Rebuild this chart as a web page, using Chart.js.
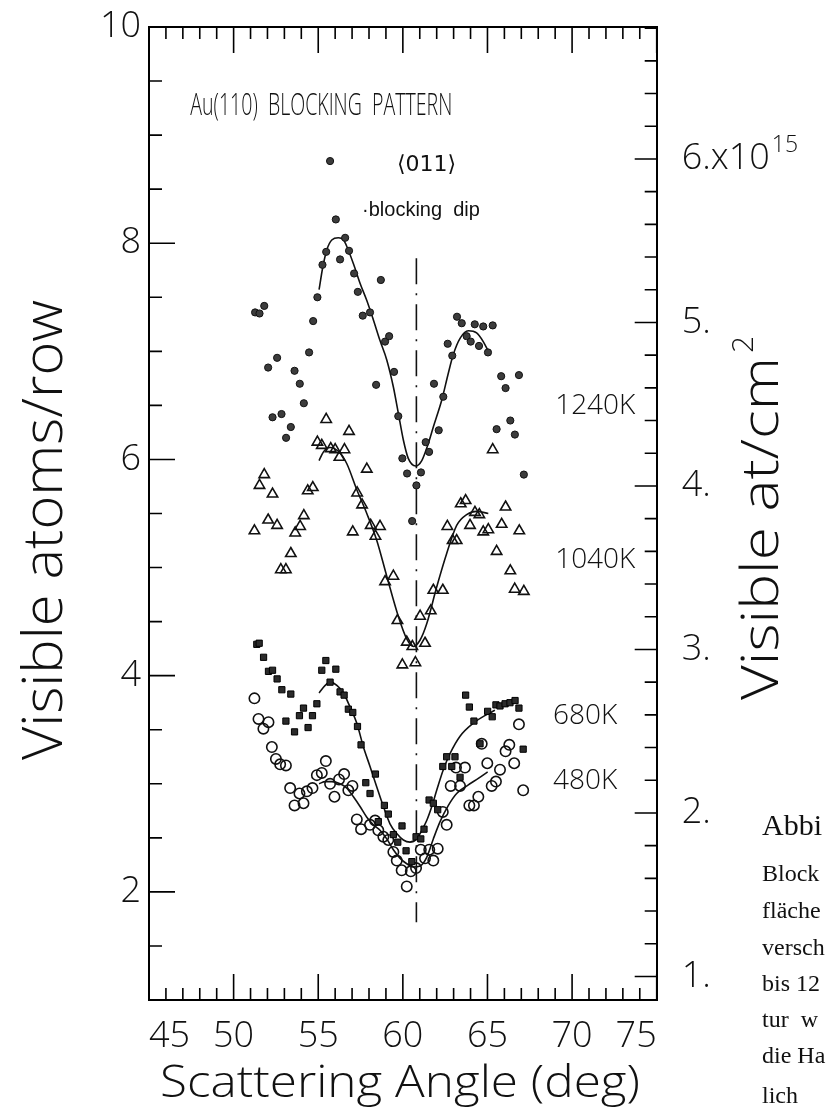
<!DOCTYPE html>
<html>
<head>
<meta charset="utf-8">
<title>Au(110) blocking pattern</title>
<script src="https://cdn.jsdelivr.net/npm/chart.js@4.4.1/dist/chart.umd.min.js"></script>
<style>
  html, body { margin: 0; padding: 0; background: #fff; overflow: hidden; }
  #wrap { position: relative; width: 827px; height: 1109px; }
</style>
</head>
<body>
<div id="wrap"><canvas id="blockingChart" width="827" height="1109"></canvas></div>
<script>
// Measured points: scattering angle (deg) and visible atoms per row
const angle1240K = [51.27, 51.53, 51.81, 52.04, 52.30, 52.57, 52.83, 53.10, 53.38, 53.60, 53.91, 54.15, 54.46, 54.70, 54.95, 55.25, 55.47, 55.70, 56.04, 56.29, 56.59, 56.82, 57.12, 57.34, 57.63, 58.06, 58.42, 58.70, 58.95, 59.19, 59.48, 59.73, 59.97, 60.25, 60.55, 60.80, 61.07, 61.35, 61.55, 61.84, 62.12, 62.39, 62.65, 62.92, 63.20, 63.48, 63.77, 64.01, 64.25, 64.50, 64.75, 65.03, 65.31, 65.54, 65.81, 66.07, 66.35, 66.62, 66.86, 67.15];
const atoms1240K = [7.36, 7.35, 7.42, 6.85, 6.39, 6.94, 6.42, 6.20, 6.30, 6.82, 6.70, 6.52, 6.99, 7.28, 7.50, 7.80, 7.92, 8.76, 8.22, 7.85, 8.05, 7.93, 7.72, 7.55, 7.33, 7.36, 6.69, 7.66, 7.09, 7.14, 6.81, 6.40, 6.01, 5.87, 5.43, 5.76, 5.88, 6.16, 6.07, 6.70, 6.27, 6.58, 7.07, 6.96, 7.32, 7.26, 7.14, 7.09, 7.25, 7.05, 7.23, 6.99, 7.24, 6.28, 6.77, 6.66, 6.36, 6.23, 6.78, 5.86];

const angle1040K = [51.23, 51.53, 51.81, 52.04, 52.30, 52.57, 52.79, 53.09, 53.38, 53.64, 53.93, 54.15, 54.38, 54.68, 54.95, 55.21, 55.47, 55.74, 56.00, 56.25, 56.55, 56.82, 57.04, 57.30, 57.59, 57.87, 58.10, 58.38, 58.65, 58.95, 59.44, 59.68, 59.97, 60.23, 60.56, 60.74, 61.02, 61.31, 61.65, 61.80, 62.36, 62.63, 62.94, 63.18, 63.42, 63.71, 63.97, 64.26, 64.52, 64.75, 65.05, 65.31, 65.54, 65.84, 66.07, 66.35, 66.61, 66.88, 67.15];
const atoms1040K = [5.34, 5.76, 5.86, 5.44, 5.68, 5.39, 4.98, 4.98, 5.13, 5.32, 5.38, 5.48, 5.71, 5.74, 6.16, 6.13, 6.37, 6.10, 6.09, 6.02, 6.09, 6.26, 5.33, 5.69, 5.58, 5.91, 5.39, 5.29, 5.38, 4.87, 4.92, 4.51, 4.10, 4.31, 4.27, 4.12, 4.55, 4.30, 4.60, 4.79, 4.79, 5.38, 5.25, 5.25, 5.59, 5.62, 5.39, 5.51, 5.49, 5.33, 5.35, 6.09, 5.15, 5.40, 5.56, 4.97, 4.80, 5.34, 4.78];

const angle680K = [51.37, 51.51, 51.77, 52.06, 52.30, 52.57, 52.85, 53.09, 53.38, 53.60, 53.89, 54.13, 54.40, 54.66, 54.92, 55.21, 55.45, 55.70, 56.04, 56.29, 56.53, 56.78, 57.04, 57.32, 57.53, 57.81, 58.06, 58.38, 58.55, 58.91, 59.14, 59.44, 59.70, 59.95, 60.19, 60.53, 60.78, 61.06, 61.25, 61.55, 61.80, 62.06, 62.36, 62.59, 62.89, 63.08, 63.38, 63.71, 63.93, 64.20, 64.56, 65.01, 65.28, 65.50, 65.74, 66.04, 66.33, 66.63, 66.86, 67.11];
const atoms680K = [4.29, 4.30, 4.17, 4.04, 4.05, 3.97, 3.87, 3.58, 3.83, 3.48, 3.63, 3.70, 3.52, 3.63, 3.74, 4.05, 4.14, 3.94, 4.06, 3.85, 3.82, 3.69, 3.66, 3.53, 3.36, 3.01, 2.91, 3.09, 2.65, 2.80, 2.72, 2.53, 2.46, 2.61, 2.38, 2.28, 2.51, 2.49, 2.58, 2.85, 2.82, 2.76, 3.16, 3.25, 3.16, 3.25, 3.06, 3.82, 3.71, 3.58, 3.37, 3.67, 3.62, 3.73, 3.72, 3.74, 3.75, 3.77, 3.70, 3.32];

const angle480K = [51.23, 51.47, 51.76, 52.06, 52.26, 52.50, 52.75, 53.09, 53.34, 53.60, 53.89, 54.13, 54.33, 54.66, 54.92, 55.21, 55.45, 55.70, 55.96, 56.23, 56.53, 56.78, 57.02, 57.28, 57.53, 58.06, 58.36, 58.55, 58.85, 59.14, 59.44, 59.64, 59.93, 60.23, 60.47, 60.78, 61.06, 61.31, 61.56, 61.80, 62.06, 62.36, 62.59, 62.83, 63.14, 63.38, 63.67, 63.93, 64.20, 64.46, 64.66, 64.99, 65.25, 65.50, 65.74, 66.07, 66.29, 66.58, 66.86, 67.11];
const atoms480K = [3.79, 3.60, 3.51, 3.57, 3.34, 3.23, 3.18, 3.17, 2.96, 2.80, 2.91, 2.82, 2.93, 2.96, 3.08, 3.10, 3.21, 3.00, 2.88, 3.04, 3.09, 2.94, 2.98, 2.67, 2.58, 2.62, 2.66, 2.57, 2.51, 2.48, 2.37, 2.29, 2.20, 2.05, 2.19, 2.22, 2.39, 2.31, 2.39, 2.29, 2.40, 2.74, 2.62, 2.98, 3.15, 2.98, 3.15, 2.80, 2.80, 2.88, 3.37, 3.19, 2.98, 3.02, 3.13, 3.30, 3.36, 3.19, 3.55, 2.94];

// Smooth guide curves through each temperature
const fitAngle1240K = [55.05, 55.27, 55.51, 55.80, 56.19, 56.49, 56.69, 57.08, 57.47, 57.87, 58.26, 58.65, 59.05, 59.44, 59.73, 60.03, 60.32, 60.76, 61.12, 61.51, 61.80, 62.30, 62.69, 62.98, 63.38, 63.87, 64.36, 64.75, 65.05];
const fitAtoms1240K = [7.57, 7.78, 7.94, 8.03, 8.05, 8.03, 7.97, 7.81, 7.63, 7.47, 7.29, 7.10, 6.92, 6.67, 6.43, 6.18, 6.01, 5.94, 5.99, 6.15, 6.30, 6.55, 6.80, 6.97, 7.12, 7.19, 7.17, 7.09, 7.00];
const fitAngle1040K = [55.05, 55.31, 55.70, 56.29, 56.69, 57.28, 57.87, 58.46, 59.05, 59.73, 60.23, 60.62, 61.02, 61.41, 62.00, 62.59, 63.18, 63.77, 64.36, 65.05];
const fitAtoms1040K = [5.99, 6.07, 6.11, 6.06, 5.96, 5.72, 5.50, 5.25, 4.92, 4.55, 4.34, 4.27, 4.33, 4.48, 4.82, 5.13, 5.39, 5.49, 5.52, 5.50];
const fitAngle680K = [55.05, 55.41, 55.70, 56.10, 56.49, 56.88, 57.28, 57.67, 58.06, 58.46, 58.85, 59.24, 59.64, 60.03, 60.42, 60.82, 61.12, 61.41, 61.71, 62.00, 62.39, 62.79, 63.38, 64.16, 64.95, 65.44];
const fitAtoms680K = [3.84, 3.91, 3.94, 3.91, 3.84, 3.71, 3.56, 3.34, 3.16, 2.97, 2.79, 2.63, 2.54, 2.48, 2.46, 2.49, 2.57, 2.66, 2.79, 2.94, 3.13, 3.28, 3.44, 3.56, 3.64, 3.68];
const fitAngle480K = [55.05, 55.41, 55.80, 56.29, 56.69, 57.08, 57.47, 57.87, 58.26, 58.65, 59.05, 59.44, 59.84, 60.23, 60.62, 61.02, 61.41, 61.80, 62.20, 62.69, 63.18, 63.87, 64.46, 65.01];
const fitAtoms480K = [3.00, 3.02, 3.02, 3.00, 2.96, 2.88, 2.79, 2.69, 2.62, 2.57, 2.49, 2.39, 2.31, 2.26, 2.23, 2.24, 2.32, 2.49, 2.65, 2.80, 2.91, 2.99, 3.05, 3.11];

// <011> blocking direction
const dipAngle = [60.8, 60.8];
const dipAtoms = [7.86, 1.72];

// Axes
const angleRange = [45, 75];
const atomsRange = [1, 10];
const arealRange = [0.856, 6.807]; // 10^15 at/cm^2 scale on the right
const angleTicks = [45, 50, 55, 60, 65, 70, 75];
const atomsTicks = [2, 4, 6, 8, 10];
const arealTicks = [1, 2, 3, 4, 5, 6];
const arealTickLabels = ["1.", "2.", "3.", "4.", "5.", "6.x10"];
const arealExponent = "15";

const SANS = "'Open Sans', 'DejaVu Sans', sans-serif";
const LIGHT = "300 ";
const TICK_SIZE = 36;

function toPoints(xs, ys) {
  return xs.map(function (x, i) {
    return { x: x, y: ys[i] };
  });
}

function fitLine(xs, ys) {
  return {
    data: toPoints(xs, ys),
    showLine: true,
    borderColor: "#111",
    borderWidth: 1.6,
    pointRadius: 0,
    cubicInterpolationMode: "monotone",
    fill: false,
  };
}

// keep the plot area fixed: no extra room for half-height edge labels
function noEdgePadding(scale) {
  scale.paddingTop = 0;
  scale.paddingBottom = 0;
  scale.paddingLeft = 0;
  scale.paddingRight = 0;
}

// draw text stretched or squeezed to a given run length, starting at the origin
function fillRun(ctx, text, length) {
  const w = ctx.measureText(text).width;
  ctx.save();
  ctx.scale(length / w, 1);
  ctx.fillText(text, 0, 0);
  ctx.restore();
}

// Text placed in data coordinates
const plotNotes = [
  { text: "1240K", x: 69.0, y: 6.49 },
  { text: "1040K", x: 69.0, y: 5.07 },
  { text: "680K", x: 68.87, y: 3.63 },
  { text: "480K", x: 68.87, y: 3.03 },
];

// German caption running beside the figure
const captionLines = [
  { text: "Abbi", y: 835, size: 30 },
  { text: "Block", y: 881, size: 24 },
  { text: "fläche", y: 918, size: 24 },
  { text: "versch", y: 955, size: 24 },
  { text: "bis 12", y: 991, size: 24 },
  { text: "tur  w", y: 1027, size: 24 },
  { text: "die Ha", y: 1063, size: 24 },
  { text: "lich", y: 1103, size: 24 },
];

const frameDecor = {
  id: "frameDecor",
  afterDraw(chart) {
    const ctx = chart.ctx;
    const a = chart.chartArea;
    const sx = chart.scales.x;
    const sy = chart.scales.y;
    const sr = chart.scales.yRight;

    ctx.save();
    ctx.strokeStyle = "#000";
    ctx.lineWidth = 1.6;
    ctx.beginPath();
    // inward ticks: every degree, long every 5
    for (let v = angleRange[0]; v <= angleRange[1]; v++) {
      const px = sx.getPixelForValue(v);
      const len = v % 5 === 0 ? 26 : 12;
      ctx.moveTo(px, a.bottom);
      ctx.lineTo(px, a.bottom - len);
      ctx.moveTo(px, a.top);
      ctx.lineTo(px, a.top + len);
    }
    // left: every 0.5, long on even values
    for (let k = 2; k <= 20; k++) {
      const py = sy.getPixelForValue(k / 2);
      const len = k % 4 === 0 ? 26 : 13;
      ctx.moveTo(a.left, py);
      ctx.lineTo(a.left + len, py);
    }
    // right: every 0.2, long on whole numbers
    for (let k = 5; k <= 34; k++) {
      const py = sr.getPixelForValue(k / 5);
      const len = k % 5 === 0 ? 22 : 12;
      ctx.moveTo(a.right, py);
      ctx.lineTo(a.right - len, py);
    }
    ctx.stroke();

    ctx.fillStyle = "#111";
    ctx.textAlign = "left";
    ctx.textBaseline = "alphabetic";

    // exponent on the top right-hand label
    ctx.font = LIGHT + TICK_SIZE + "px " + SANS;
    const baseW = ctx.measureText(arealTickLabels[5]).width;
    ctx.font = LIGHT + "23px " + SANS;
    ctx.fillText(arealExponent, a.right + 25 + baseW + 2, sr.getPixelForValue(6) - 7);

    // heading, drawn condensed
    ctx.font = LIGHT + "32px " + SANS;
    ctx.save();
    ctx.translate(sx.getPixelForValue(47.44), sy.getPixelForValue(9.19));
    fillRun(ctx, "Au(110)  BLOCKING  PATTERN", 262);
    ctx.restore();

    ctx.font = "22px 'DejaVu Sans', sans-serif";
    ctx.textAlign = "center";
    ctx.textBaseline = "middle";
    ctx.fillText("\u27e8011\u27e9", sx.getPixelForValue(61.4), sy.getPixelForValue(8.72));

    ctx.font = "20px 'Liberation Sans', sans-serif";
    ctx.textAlign = "left";
    ctx.textBaseline = "alphabetic";
    ctx.fillText("\u00b7blocking  dip", sx.getPixelForValue(57.59), sy.getPixelForValue(8.25));

    ctx.textBaseline = "middle";
    ctx.font = LIGHT + "28px " + SANS;
    plotNotes.forEach(function (n) {
      ctx.fillText(n.text, sx.getPixelForValue(n.x), sy.getPixelForValue(n.y));
    });

    // axis titles
    ctx.textBaseline = "alphabetic";
    ctx.font = LIGHT + "45px " + SANS;
    ctx.save();
    ctx.translate(160, 1097);
    fillRun(ctx, "Scattering Angle (deg)", 480);
    ctx.restore();

    ctx.save();
    ctx.font = LIGHT + "55px " + SANS;
    ctx.translate(62, 760);
    ctx.rotate(-Math.PI / 2);
    fillRun(ctx, "Visible atoms/row", 460);
    ctx.restore();

    // right-hand title, reading upward, with superscript
    ctx.save();
    ctx.font = LIGHT + "52px " + SANS;
    ctx.translate(778, 700);
    ctx.rotate(-Math.PI / 2);
    fillRun(ctx, "Visible at/cm", 343);
    ctx.font = LIGHT + "30px " + SANS;
    ctx.fillText("2", 347, -25);
    ctx.restore();

    // caption
    captionLines.forEach(function (c) {
      ctx.font = c.size + "px 'Liberation Serif', 'DejaVu Serif', serif";
      ctx.fillText(c.text, 762, c.y);
    });

    ctx.restore();
  },
};

function initBlockingChart() {
  const ctx = document.getElementById("blockingChart");
  if (!ctx) return;

  const tickFont = { family: SANS, size: TICK_SIZE, weight: "300" };

  new Chart(ctx, {
    type: "scatter",
    data: {
      datasets: [
        {
          label: "1240K",
          data: toPoints(angle1240K, atoms1240K),
          pointStyle: "circle",
          pointRadius: 3.6,
          backgroundColor: "#3c3c3c",
          borderColor: "#111",
          borderWidth: 1,
        },
        {
          label: "1040K",
          data: toPoints(angle1040K, atoms1040K),
          pointStyle: "triangle",
          pointRadius: 6,
          backgroundColor: "rgba(255, 255, 255, 0)",
          borderColor: "#111",
          borderWidth: 1.6,
        },
        {
          label: "680K",
          data: toPoints(angle680K, atoms680K),
          pointStyle: "rect",
          pointRadius: 4.4,
          backgroundColor: "#2b2b2b",
          borderColor: "#000",
          borderWidth: 1,
        },
        {
          label: "480K",
          data: toPoints(angle480K, atoms480K),
          pointStyle: "circle",
          pointRadius: 5.2,
          backgroundColor: "rgba(255, 255, 255, 0)",
          borderColor: "#111",
          borderWidth: 1.6,
        },
        fitLine(fitAngle1240K, fitAtoms1240K),
        fitLine(fitAngle1040K, fitAtoms1040K),
        fitLine(fitAngle680K, fitAtoms680K),
        fitLine(fitAngle480K, fitAtoms480K),
        {
          data: toPoints(dipAngle, dipAtoms),
          showLine: true,
          borderColor: "#111",
          borderWidth: 1.6,
          borderDash: [26, 9, 2, 9],
          pointRadius: 0,
        },
      ],
    },
    options: {
      responsive: false,
      animation: false,
      events: [],
      layout: { padding: 0 },
      plugins: {
        legend: { display: false },
        tooltip: { enabled: false },
      },
      scales: {
        x: {
          type: "linear",
          position: "bottom",
          min: angleRange[0],
          max: angleRange[1],
          grid: { display: false, drawTicks: false },
          border: { display: true, color: "#000", width: 2 },
          afterBuildTicks: function (scale) {
            scale.ticks = angleTicks.map(function (v) { return { value: v }; });
          },
          afterFit: function (scale) {
            scale.height = 109;
            noEdgePadding(scale);
          },
          ticks: {
            font: tickFont,
            color: "#111",
            padding: 15,
            align: "inner",
            maxRotation: 0,
            autoSkip: false,
          },
        },
        xTop: {
          type: "linear",
          position: "top",
          min: angleRange[0],
          max: angleRange[1],
          grid: { display: false, drawTicks: false },
          border: { display: true, color: "#000", width: 2 },
          ticks: { display: false },
          afterFit: function (scale) {
            scale.height = 27;
            noEdgePadding(scale);
          },
        },
        y: {
          type: "linear",
          position: "left",
          min: atomsRange[0],
          max: atomsRange[1],
          grid: { display: false, drawTicks: false },
          border: { display: true, color: "#000", width: 2 },
          afterBuildTicks: function (scale) {
            scale.ticks = atomsTicks.map(function (v) { return { value: v }; });
          },
          afterFit: function (scale) {
            scale.width = 149;
            noEdgePadding(scale);
          },
          ticks: { font: tickFont, color: "#111", padding: 8 },
        },
        yRight: {
          type: "linear",
          position: "right",
          min: arealRange[0],
          max: arealRange[1],
          grid: { display: false, drawTicks: false },
          border: { display: true, color: "#000", width: 2 },
          afterBuildTicks: function (scale) {
            scale.ticks = arealTicks.map(function (v) { return { value: v }; });
          },
          afterFit: function (scale) {
            scale.width = 170.3;
            noEdgePadding(scale);
          },
          ticks: {
            font: tickFont,
            color: "#111",
            padding: 25,
            callback: function (value) {
              return arealTickLabels[arealTicks.indexOf(value)];
            },
          },
        },
      },
    },
    plugins: [frameDecor],
  });
}

initBlockingChart();
</script>
</body>
</html>
